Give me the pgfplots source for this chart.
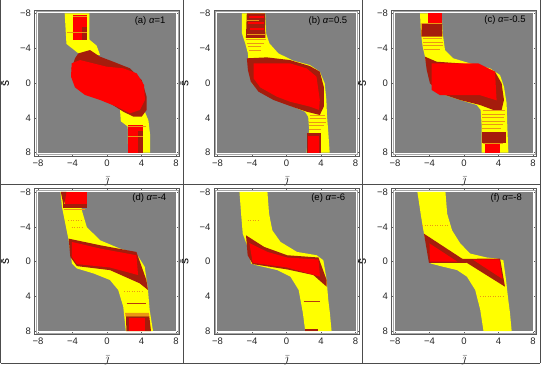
\documentclass[border=0pt]{standalone}
\usepackage{fontspec}
\setmainfont{Liberation Sans}
\usepackage{pgfplots}
\pgfplotsset{compat=1.18}
\definecolor{bg}{RGB}{128,128,128}
\definecolor{yel}{RGB}{255,255,0}
\definecolor{rd}{RGB}{255,0,0}
\definecolor{drd}{RGB}{165,28,12}
\definecolor{orn}{RGB}{235,150,20}
\definecolor{frm}{RGB}{90,90,90}
\pgfplotsset{
  panel/.style={
    scale only axis, width=145pt, height=146pt,
    xmin=-8.4, xmax=8.4, ymin=-8.4, ymax=8.4, y dir=reverse,
    xtick={-8,-4,0,4,8}, ytick={-8,-4,0,4,8},
    xticklabels={−8,−4,0,4,8}, yticklabels={−8,−4,0,4,8},
    axis line style={draw=frm, line width=0.5pt},
    tick style={frm, line width=0.4pt},
    major tick length=2pt, tick align=inside,
    ticklabel style={font=\fontsize{9.5}{11}\selectfont, text=black!85},
    xlabel={$\bar{\jmath}$}, ylabel={s̄},
    label style={font=\fontsize{12}{14}\selectfont, inner sep=1pt},
    xlabel style={yshift=-6pt}, ylabel style={yshift=6.5pt},
    axis background/.style={fill=white},
  },
  Y/.style={fill=yel, draw=none},
  R/.style={fill=rd, draw=none},
  D/.style={fill=drd, draw=none},
  G/.style={fill=bg, draw=none},
  O/.style={orn, line width=0.9pt},
  OD/.style={orn, line width=0.8pt, dash pattern=on 1pt off 1.5pt},
  DL/.style={drd!75!orn, line width=0.8pt},
}
\newcommand{\bgrect}{%
  \addplot[G] coordinates {(-8,-8)(8,-8)(8,8)(-8,8)} -- cycle;
}
\newcommand{\inframe}{%
  \draw[black!35, line width=0.3pt] (axis cs:-8.22,-8.22) rectangle (axis cs:8.22,8.22);
}
\newcommand{\ttl}[3]{\node[font=\fontsize{9.5}{11}\selectfont, anchor=center] at (axis cs:#1,#2) {#3};}
\begin{document}
\begin{tikzpicture}
\useasboundingbox (0pt,0pt) rectangle (550pt,-369pt);
% ---------------- (a)
\begin{axis}[panel, at={(107pt,-83pt)}, anchor=center]
\bgrect
\addplot[Y] coordinates {(-4.9,-8)(-2.05,-8)(-2.05,-5.0)(-1.2,-4.3)(-0.8,-3.2)(-3.3,-3.4)(-4.7,-4.5)} -- cycle;
\addplot[Y] coordinates {(1.5,3.0)(4.3,3.1)(4.8,4.3)(5.0,6)(5.0,8)(2.45,8)(2.4,5.0)(1.6,4.4)} -- cycle;
\addplot[D] coordinates {(-3.32,-3.41)(-1.97,-3.79)(-0.81,-3.03)(0.73,-2.45)(2.66,-1.69)(4.02,-0.34)(4.59,1.57)(4.59,3.1)(4.02,3.87)(3.05,3.87)(1.89,3.3)(0.35,2.34)(-1.58,1.57)(-3.13,0.8)(-3.98,-0.34)(-4.09,-1.69)(-3.71,-2.84)} -- cycle;
\addplot[R] coordinates {(-4.09,-2.26)(-3.13,-2.64)(-1.58,-2.26)(-0.04,-1.88)(1.89,-1.69)(3.44,-1.11)(4.29,0.23)(4.4,1.95)(3.82,3.1)(2.66,3.49)(1.12,2.72)(-0.81,1.95)(-2.55,1.38)(-3.71,0.5)(-4.17,-0.73)} -- cycle;
\addplot[R] coordinates {(-3.98,-7.8)(-2.28,-7.8)(-2.28,-4.94)(-3.98,-4.94)} -- cycle;
\addplot[D] coordinates {(-2.9,-6.5)(-2.28,-6.5)(-2.28,-4.94)(-2.9,-4.94)} -- cycle;
\addplot[R] coordinates {(2.47,4.83)(4.2,4.83)(4.2,8)(2.47,8)} -- cycle;
\addplot[D] coordinates {(3.6,5.5)(4.2,5.5)(4.2,8)(3.6,8)} -- cycle;
\addplot[O] coordinates {(-3.98,-7.7)(-2.28,-7.7)};
\addplot[O] coordinates {(-4.6,-5.8)(-2.28,-5.8)};
\addplot[O] coordinates {(2.47,5.0)(4.5,5.0)};
\addplot[O] coordinates {(2.47,6.2)(4.2,6.2)};
\inframe
\ttl{5.0}{-7.1}{(a) \textit{α}=1}
\end{axis}
% ---------------- (b)
\begin{axis}[panel, at={(286.5pt,-83pt)}, anchor=center]
\bgrect
\addplot[Y] coordinates {(-5.16,-8)(-5.16,-5.71)(-4.78,-4.56)(-4.47,-3.41)(-4.39,-1.88)(-4.01,0.04)(-3.05,1.0)(-1.13,1.95)(0.79,2.72)(2.13,3.3)(2.51,3.87)(2.63,5.4)(2.32,8)
  (5.0,8)(4.85,5.79)(4.7,3.87)(4.62,1.95)(4.43,0.04)(3.86,-1.3)(2.71,-2.07)(0.79,-2.57)(-0.94,-3.41)(-1.98,-4.56)(-2.36,-5.71)(-2.47,-8)} -- cycle;
\addplot[D] coordinates {(-4.59,-2.84)(-2.28,-2.95)(0.4,-2.64)(2.71,-1.95)(3.86,-1.3)(4.32,0.42)(4.32,2.72)(3.86,3.68)(2.32,3.3)(0.4,2.64)(-1.51,1.95)(-3.24,1.0)(-4.13,-0.15)(-4.47,-1.49)} -- cycle;
\addplot[R] coordinates {(-3.82,-2.26)(0.4,-2.26)(2.32,-1.69)(3.47,-0.73)(3.86,1.95)(3.78,3.1)(2.71,2.72)(0.4,2.15)(-1.13,1.57)(-3.05,0.5)(-3.82,-0.54)} -- cycle;
\addplot[D] coordinates {(-4.6,-8)(-2.5,-8)(-2.45,-5.2)(-4.7,-5.2)} -- cycle;
\addplot[rd, line width=1.6pt] coordinates {(-4.4,-7.6)(-2.6,-7.6)};
\addplot[rd, line width=1.6pt] coordinates {(-4.5,-6.9)(-2.6,-6.9)};
\addplot[rd, line width=1.6pt] coordinates {(-4.2,-6.2)(-2.6,-6.2)};
\addplot[O] coordinates {(-4.6,-7.25)(-3.2,-7.25)};
\addplot[O] coordinates {(-4.6,-5.6)(-2.5,-5.6)};
\addplot[O] coordinates {(-4.7,-5.0)(-2.4,-5.0)};
\addplot[O] coordinates {(-4.6,-4.6)(-2.6,-4.6)};
\addplot[O] coordinates {(-4.5,-4.2)(-2.9,-4.2)};
\addplot[O] coordinates {(-4.4,-3.8)(-3.0,-3.8)};
\addplot[O] coordinates {(2.7,3.7)(4.5,3.7)};
\addplot[O] coordinates {(2.7,4.1)(4.6,4.1)};
\addplot[O] coordinates {(2.65,4.5)(4.6,4.5)};
\addplot[O] coordinates {(2.65,4.9)(4.4,4.9)};
\addplot[O] coordinates {(2.65,5.3)(4.0,5.3)};
\addplot[D] coordinates {(2.35,5.7)(3.95,5.7)(3.95,8)(2.35,8)} -- cycle;
\addplot[R] coordinates {(2.5,6.1)(3.8,6.1)(3.8,8)(2.5,8)} -- cycle;
\inframe
\ttl{4.8}{-7.1}{(b) \textit{α}=0.5}
\end{axis}
% ---------------- (c)
\begin{axis}[panel, at={(464pt,-83pt)}, anchor=center]
\bgrect
\addplot[Y] coordinates {(-5.1,-8)(-4.98,-5.71)(-4.79,-4.18)(-4.52,-3.03)(-4.13,-1.11)(-3.75,0.23)(-2.78,1.19)(-0.46,1.95)(1.47,2.53)(1.93,3.1)(2.05,5.02)(2.05,8)
  (5.14,8)(5.02,5.02)(4.94,2.34)(4.63,0.42)(4.17,-0.92)(3.01,-1.69)(0.69,-2.26)(-1.24,-2.84)(-2.2,-3.79)(-2.47,-5.71)(-2.59,-8)} -- cycle;
\addplot[D] coordinates {(-4.52,-3.03)(-3.17,-2.45)(-0.46,-2.26)(2.24,-1.88)(3.59,-1.3)(4.36,0.04)(4.63,1.95)(4.36,3.1)(3.4,3.1)(1.85,2.53)(-0.46,1.95)(-2.78,1.19)(-3.94,0.04)(-4.32,-1.49)} -- cycle;
\addplot[R] coordinates {(-3.75,-2.26)(1.66,-2.26)(3.59,-1.3)(3.78,2.0)(1.85,1.4)(-2.78,1.4)(-3.75,0.8)} -- cycle;
\addplot[R] coordinates {(-4.13,-8)(-2.59,-8)(-2.59,-6.86)(-4.13,-6.86)} -- cycle;
\addplot[D] coordinates {(-4.9,-6.86)(-2.55,-6.86)(-2.5,-5.33)(-4.95,-5.33)} -- cycle;
\addplot[O] coordinates {(-4.9,-6.86)(-2.55,-6.86)};
\addplot[O] coordinates {(-4.8,-5.1)(-2.5,-5.1)};
\addplot[O] coordinates {(-4.8,-4.7)(-2.4,-4.7)};
\addplot[O] coordinates {(-4.7,-4.3)(-2.4,-4.3)};
\addplot[O] coordinates {(-4.6,-3.9)(-2.8,-3.9)};
\addplot[O] coordinates {(2.2,3.2)(4.7,3.2)};
\addplot[O] coordinates {(2.1,3.6)(4.8,3.6)};
\addplot[O] coordinates {(2.1,4.0)(4.6,4.0)};
\addplot[O] coordinates {(2.1,4.4)(4.7,4.4)};
\addplot[O] coordinates {(2.1,4.8)(4.5,4.8)};
\addplot[O] coordinates {(2.1,5.2)(4.3,5.2)};
\addplot[D] coordinates {(2.05,5.6)(4.9,5.6)(4.9,6.9)(2.05,6.9)} -- cycle;
\addplot[R] coordinates {(2.43,6.9)(4.17,6.9)(4.17,8)(2.43,8)} -- cycle;
\addplot[O] coordinates {(2.2,6.9)(4.5,6.9)};
\inframe
\ttl{4.75}{-7.2}{(c) \textit{α}=-0.5}
\end{axis}
% ---------------- (d)
\begin{axis}[panel, at={(107pt,-261.5pt)}, anchor=center]
\bgrect
\addplot[Y] coordinates {(-5.4,-8)(-5.21,-6.25)(-4.83,-4.34)(-4.44,-2.44)(-4.06,0.23)(-3.49,0.8)(-1.57,1.37)(0.34,2.13)(1.3,3.28)(1.88,5.18)(2.18,8)
  (5.33,8)(4.94,5.56)(4.75,3.28)(4.37,0.61)(3.41,-0.91)(1.49,-1.49)(-0.8,-2.44)(-2.34,-3.96)(-2.91,-5.87)(-3.1,-8)} -- cycle;
\addplot[D] coordinates {(-4.44,-2.63)(-0.8,-1.87)(3.41,-1.1)(4.56,2.13)(4.75,3.28)(3.79,2.51)(0.34,0.99)(-3.49,0.53)(-4.25,-0.53)} -- cycle;
\addplot[R] coordinates {(-4.06,-2.25)(-0.8,-1.49)(3.41,-0.72)(3.6,1.56)(0.34,0.69)(-3.49,0.3)(-4.06,-0.53)} -- cycle;
\addplot[R] coordinates {(-4.83,-8)(-2.26,-8)(-2.26,-6.63)(-4.83,-6.63)} -- cycle;
\addplot[D] coordinates {(-5.1,-6.63)(-2.3,-6.63)(-2.3,-6.17)(-5.1,-6.17)} -- cycle;
\addplot[D] coordinates {(-5.35,-8)(-4.7,-8)(-5.0,-6.3)} -- cycle;
\addplot[O] coordinates {(-5.0,-6.0)(-2.5,-6.0)};
\addplot[OD] coordinates {(-4.5,-4.7)(-2.8,-4.7)};
\addplot[OD] coordinates {(-4.1,-3.9)(-2.9,-3.9)};
\addplot[OD] coordinates {(2.0,3.4)(4.2,3.4)};
\addplot[DL] coordinates {(2.26,4.8)(4.56,4.8)};
\addplot[fill=orn, draw=none] coordinates {(2.1,5.9)(4.85,5.9)(4.9,6.32)(2.15,6.32)} -- cycle;
\addplot[D] coordinates {(2.2,6.32)(4.9,6.32)(5.1,8)(2.25,8)} -- cycle;
\addplot[R] coordinates {(2.5,6.5)(4.4,6.5)(4.4,8)(2.5,8)} -- cycle;
\inframe
\ttl{4.9}{-7.35}{(d) \textit{α}=-4}
\end{axis}
% ---------------- (e)
\begin{axis}[panel, at={(286.5pt,-261.5pt)}, anchor=center]
\bgrect
\addplot[Y] coordinates {(-5.45,-8)(-5.26,-5.49)(-5.07,-3.2)(-4.5,-1.68)(-4.11,0.23)(-3.54,0.42)(-1.07,0.99)(0.46,1.75)(1.41,3.28)(1.9,5.94)(2.17,8)
  (5.22,8)(5.03,5.94)(4.84,4.42)(4.65,2.13)(4.27,-0.15)(3.5,-0.72)(1.22,-1.1)(-0.69,-2.25)(-1.64,-3.58)(-2.02,-5.49)(-2.21,-8)} -- cycle;
\addplot[D] coordinates {(-4.69,-3.01)(-2.59,-1.68)(0.08,-0.72)(3.7,-0.46)(4.65,2.13)(4.65,2.9)(3.12,1.56)(0.08,0.91)(-3.92,0.3)(-4.5,-0.72)} -- cycle;
\addplot[R] coordinates {(-4.3,-2.13)(-2.21,-1.1)(0.08,-0.46)(3.7,-0.23)(3.89,1.75)(0.08,0.69)(-3.92,0.15)} -- cycle;
\addplot[OD] coordinates {(-4.5,-4.72)(-3.16,-4.72)};
\addplot[DL] coordinates {(1.98,4.61)(3.89,4.61)};
\addplot[drd, line width=1.5pt] coordinates {(2.2,7.9)(3.7,7.9)};
\inframe
\ttl{4.84}{-7.35}{(e) \textit{α}=-6}
\end{axis}
% ---------------- (f)
\begin{axis}[panel, at={(464pt,-261.5pt)}, anchor=center]
\bgrect
\addplot[Y] coordinates {(-5.4,-8)(-5.02,-5.49)(-4.64,-3.2)(-4.25,-1.68)(-3.87,0.23)(-2.72,0.53)(-0.8,0.99)(0.34,1.75)(1.3,3.28)(1.88,5.56)(2.26,8)
  (5.52,8)(5.33,5.94)(5.13,4.42)(4.87,2.13)(4.56,-0.15)(3.79,-0.34)(2.64,-0.46)(0.73,-0.91)(-0.42,-2.06)(-1.38,-3.58)(-1.95,-5.49)(-2.15,-8)} -- cycle;
\addplot[D] coordinates {(-4.64,-3.2)(0.3,0.01)(0.3,0.15)(-4.06,0.15)} -- cycle;
\addplot[D] coordinates {(-0.4,-0.3)(4.18,-0.34)(4.75,2.9)} -- cycle;
\addplot[R] coordinates {(-4.0,-2.08)(-3.95,0.02)(-0.76,0.02)} -- cycle;
\addplot[R] coordinates {(1.02,-0.22)(4.1,-0.25)(4.45,2.01)} -- cycle;
\addplot[OD] coordinates {(-4.83,-4.15)(-1.76,-4.15)};
\addplot[OD] coordinates {(1.88,4.04)(4.56,4.04)};
\inframe
\ttl{4.9}{-7.35}{(f) \textit{α}=-8}
\end{axis}
% ---------------- cell borders
\draw[black!70, line width=0.7pt] (0.5pt,0pt) -- (0.5pt,-363pt);
\draw[black!70, line width=0.7pt] (183pt,0pt) -- (183pt,-363pt);
\draw[black!70, line width=0.7pt] (362pt,0pt) -- (362pt,-363pt);
\draw[black!70, line width=0.7pt] (540pt,0pt) -- (540pt,-363pt);
\draw[black!70, line width=0.7pt] (0.5pt,-184.5pt) -- (540pt,-184.5pt);
\draw[black!70, line width=0.7pt] (0.5pt,-363pt) -- (540pt,-363pt);
\end{tikzpicture}
\end{document}
